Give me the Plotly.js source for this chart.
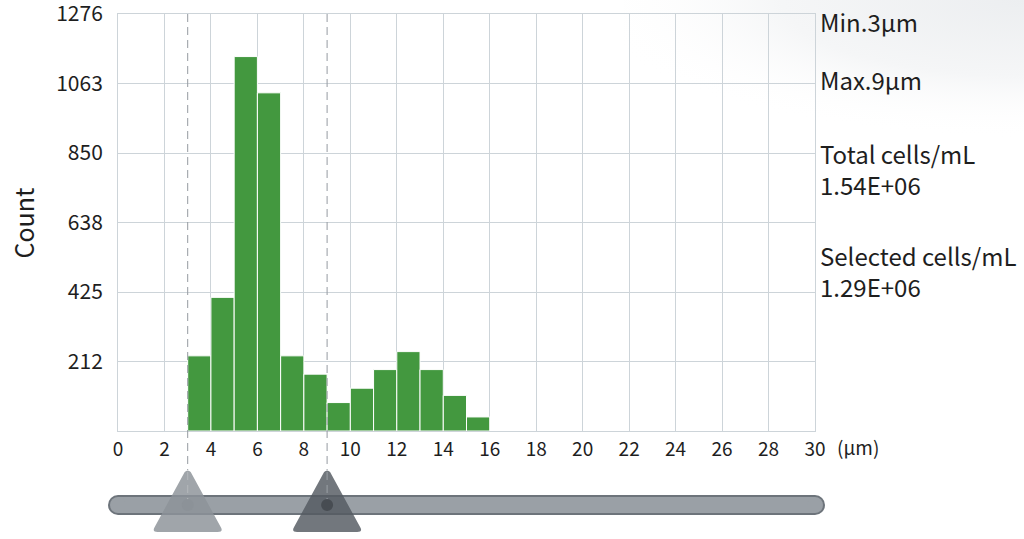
<!DOCTYPE html>
<html>
<head>
<meta charset="utf-8">
<script src="https://cdn.plot.ly/plotly-3.0.1.min.js"></script>
<style>
  html, body { margin: 0; padding: 0; background: #ffffff; }
  #chart { width: 1024px; height: 539px; }
</style>
</head>
<body>
<div id="chart"></div>
<script>
// ---- Data ----
const binCenters = [3.5, 4.5, 5.5, 6.5, 7.5, 8.5, 9.5, 10.5, 11.5, 12.5, 13.5, 14.5, 15.5];
const counts     = [230, 409, 1146, 1035, 230, 174, 87, 131, 188, 243, 188, 109, 43];
const yMax = 1276;
const yTickLabels = ['212', '425', '638', '850', '1063', '1276'];
const minSize = 3;
const maxSize = 9;
const infoLabels = ['Min.3μm', 'Max.9μm', 'Total cells/mL<br>1.54E+06', 'Selected cells/mL<br>1.29E+06'];
const xUnit = '(μm)';
const yTitle = 'Count';

// ---- Styles ----
const FONT = '"Noto Sans CJK SC", "Noto Sans", sans-serif';
const TXT = '#1e1e1e';
const GRID = '#cdd4d9';
const GREEN = '#43983f';

const yTickVals = yTickLabels.map((_, i) => yMax * (i + 1) / yTickLabels.length);

const trace = {
  type: 'bar',
  x: binCenters,
  y: counts,
  width: 1,
  marker: { color: GREEN, line: { color: '#ffffff', width: 1 } },
  hoverinfo: 'x+y'
};

const plotH = 539 - 14 - 108;
const py = px => (431 - px) / plotH;

const sliderY = py(505);
const shapes = [];

[[10, '#6d747b'], [8, '#9aa0a6']].forEach(([r, c]) => {
  shapes.push({ type: 'rect', xref: 'paper', x0: 0, x1: 1, yref: 'paper', ysizemode: 'pixel', yanchor: sliderY,
    y0: -r, y1: r, fillcolor: c, line: { width: 0 }, layer: 'above' });
  [0, 1].forEach(xa => shapes.push({ type: 'circle', xref: 'paper', xsizemode: 'pixel', xanchor: xa,
    x0: -r, x1: r, yref: 'paper', ysizemode: 'pixel', yanchor: sliderY, y0: -r, y1: r,
    fillcolor: c, line: { width: 0 }, layer: 'above' }));
});

[minSize, maxSize].forEach(v => {
  shapes.push({ type: 'line', xref: 'x', x0: v, x1: v, yref: 'paper', y0: 1, y1: py(470),
    line: { color: '#959ba1', width: 1, dash: '8px,5px' }, layer: 'above' });
});

const triPath = 'M -3,33 Q 0,36 3,33 L 33,-22 Q 36,-27 30,-27 L -30,-27 Q -36,-27 -33,-22 Z';
[[minSize, 'rgba(141,147,153,0.83)', '#8c9298', '#b4b8bc'],
 [maxSize, 'rgba(83,89,96,0.82)', '#474c52', '#9aa0a6']].forEach(([v, fill, knob, dash]) => {
  shapes.push({ type: 'path', xref: 'x', xsizemode: 'pixel', xanchor: v, yref: 'paper', ysizemode: 'pixel',
    yanchor: sliderY, path: triPath, fillcolor: fill, line: { width: 0 }, layer: 'above' });
  shapes.push({ type: 'line', xref: 'x', x0: v, x1: v, yref: 'paper', y0: py(472), y1: sliderY,
    line: { color: dash, width: 1, dash: '8px,5px' }, layer: 'above' });
  shapes.push({ type: 'circle', xref: 'x', xsizemode: 'pixel', xanchor: v, x0: -6, x1: 6,
    yref: 'paper', ysizemode: 'pixel', yanchor: sliderY, y0: -6, y1: 6,
    fillcolor: knob, line: { width: 0 }, layer: 'above' });
});

const infoY = [21, 79, 168.5, 270.5];
const annotations = infoLabels.map((t, i) => ({
  text: t, xref: 'paper', x: 1, xanchor: 'left', xshift: 3, align: 'left',
  yref: 'paper', y: py(infoY[i]), yanchor: 'middle',
  showarrow: false, font: { family: FONT, size: 24, color: TXT }
}));
annotations.push({
  text: xUnit, xref: 'paper', x: 1, xanchor: 'left', xshift: 20,
  yref: 'paper', y: py(446), yanchor: 'middle', showarrow: false,
  font: { family: FONT, size: 19, color: TXT }
});
annotations.push({
  text: yTitle, xref: 'paper', x: (22 - 118) / 697, xanchor: 'center',
  yref: 'paper', y: 0.5, yanchor: 'middle', textangle: -90, showarrow: false,
  font: { family: FONT, size: 25, color: TXT }
});

const bgSvg = '<svg xmlns="http://www.w3.org/2000/svg" width="400" height="140">' +
  '<defs><radialGradient id="g" cx="1" cy="0" r="1.1" gradientTransform="scale(1,0.9)">' +
  '<stop offset="0" stop-color="#eceef0"/><stop offset="0.55" stop-color="#f5f6f7"/>' +
  '<stop offset="1" stop-color="#ffffff" stop-opacity="0"/></radialGradient></defs>' +
  '<rect width="400" height="140" fill="url(#g)"/></svg>';

const layout = {
  width: 1024, height: 539,
  margin: { l: 118, r: 209, t: 14, b: 108, pad: 0 },
  paper_bgcolor: '#ffffff', plot_bgcolor: 'rgba(0,0,0,0)',
  showlegend: false,
  bargap: 0,
  font: { family: FONT, color: TXT },
  images: [{
    source: 'data:image/svg+xml;charset=utf-8,' + encodeURIComponent(bgSvg),
    xref: 'paper', yref: 'paper', x: (624 - 118) / 697, y: py(0),
    sizex: 400 / 697, sizey: 140 / plotH, sizing: 'stretch',
    xanchor: 'left', yanchor: 'top', layer: 'below'
  }],
  xaxis: {
    range: [0, 30], tick0: 0, dtick: 2, showgrid: true, gridcolor: GRID, gridwidth: 1,
    showline: true, linecolor: GRID, linewidth: 1, mirror: true, zeroline: false,
    ticks: '', ticklabelstandoff: 1,
    tickfont: { family: FONT, size: 19, color: TXT }, fixedrange: true
  },
  yaxis: {
    range: [0, yMax + 0.3], tickvals: yTickVals, ticktext: yTickLabels,
    showgrid: true, gridcolor: GRID, gridwidth: 1,
    showline: true, linecolor: GRID, linewidth: 1, mirror: true, zeroline: false,
    ticks: '', ticklabelstandoff: 10, ticklabeloverflow: 'allow',
    tickfont: { family: FONT, size: 21, color: TXT }, fixedrange: true
  },
  shapes: shapes,
  annotations: annotations
};

Plotly.newPlot('chart', [trace], layout, { displayModeBar: false, staticPlot: true });
</script>
</body>
</html>
